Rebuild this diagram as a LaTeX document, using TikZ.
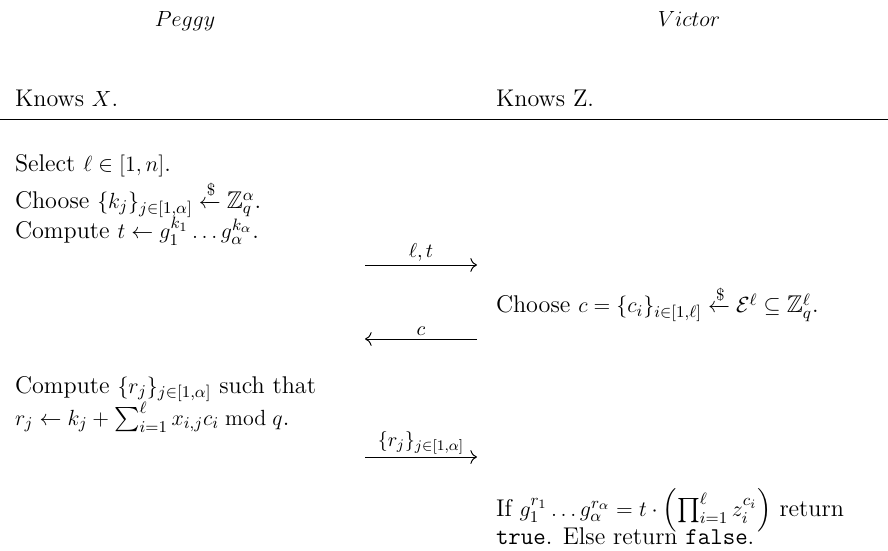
\documentclass[tikz,border=0pt]{standalone}
\usepackage{amsmath,amssymb}
\usetikzlibrary{arrows.meta}
\DeclareMathSizes{13.2}{13.2}{9.4}{7}
\DeclareMathSizes{11.4}{11.4}{8.4}{8.4}
\newcommand{\bigtext}{\fontsize{13.2}{15.8}\selectfont}
\newcommand{\labelsize}{\fontsize{11.4}{13}\selectfont}
\begin{document}
\begin{tikzpicture}[x=0.5464pt,y=0.5464pt,
  txt/.style={anchor=base west,inner sep=0pt,outer sep=0pt,font=\bigtext},
  head/.style={anchor=base,inner sep=0pt,font=\bigtext},
  msg/.style={-{Computer Modern Rightarrow[scale=1.3]},line width=0.53pt},
  lbl/.style={inner sep=1.5pt,font=\labelsize}]
\useasboundingbox (0,0) rectangle (888,-551);
% headers
\node[head] (peggy) at (185,-27) {$Peggy$};
\node[head] (victor) at (689,-27) {$Victor$};
\node[txt] (kx) at (15,-107) {Knows $X$.};
\node[txt] (kz) at (496,-107) {Knows Z.};
\coordinate (hl) at (0,-119);
\coordinate (hr) at (888,-119);
\draw[line width=0.53pt] (hl) -- (hr);
% Peggy step 1
\node[txt] (p1) at (15,-172) {\begin{tabular}[t]{@{}l@{}}
Select $\ell\in[1,n]$.\\
Choose $\{k_j\}_{j\in[1,\alpha]}\xleftarrow{\$}\mathbb{Z}_q^{\alpha}$.\\
Compute $t\leftarrow g_1^{k_1}\dots g_\alpha^{k_\alpha}$.
\end{tabular}};
% message 1
\coordinate (a1s) at (365,-265);
\coordinate (a1e) at (477,-265);
\draw[msg] (a1s) -- node[lbl,above] {$\ell,t$} (a1e);
% Victor challenge
\node[txt] (v1) at (496,-313) {Choose $c=\{c_i\}_{i\in[1,\ell]}\xleftarrow{\$}\mathcal{E}^{\ell}\subseteq\mathbb{Z}_q^{\ell}$.};
% message 2
\coordinate (a2s) at (477,-339);
\coordinate (a2e) at (365,-339);
\draw[msg] (a2s) -- node[lbl,above] {$c$} (a2e);
% Peggy response
\node[txt] (p4) at (15,-393) {\begin{tabular}[t]{@{}l@{}}
Compute $\{r_j\}_{j\in[1,\alpha]}$ such that\\
$r_j\leftarrow k_j+\sum_{i=1}^{\ell}x_{i,j}c_i \bmod q$.
\end{tabular}};
% message 3
\coordinate (a3s) at (365,-457);
\coordinate (a3e) at (477,-457);
\draw[msg] (a3s) -- node[lbl,above] {$\{r_j\}_{j\in[1,\alpha]}$} (a3e);
% Victor verify
\node[txt] (v2) at (496,-516) {If $g_1^{r_1}\dots g_\alpha^{r_\alpha}=t\cdot\left(\prod_{i=1}^{\ell}z_i^{c_i}\right)$ return};
\node[txt] (v3) at (496,-544) {\texttt{true}. Else return \texttt{false}.};
\end{tikzpicture}
\end{document}
